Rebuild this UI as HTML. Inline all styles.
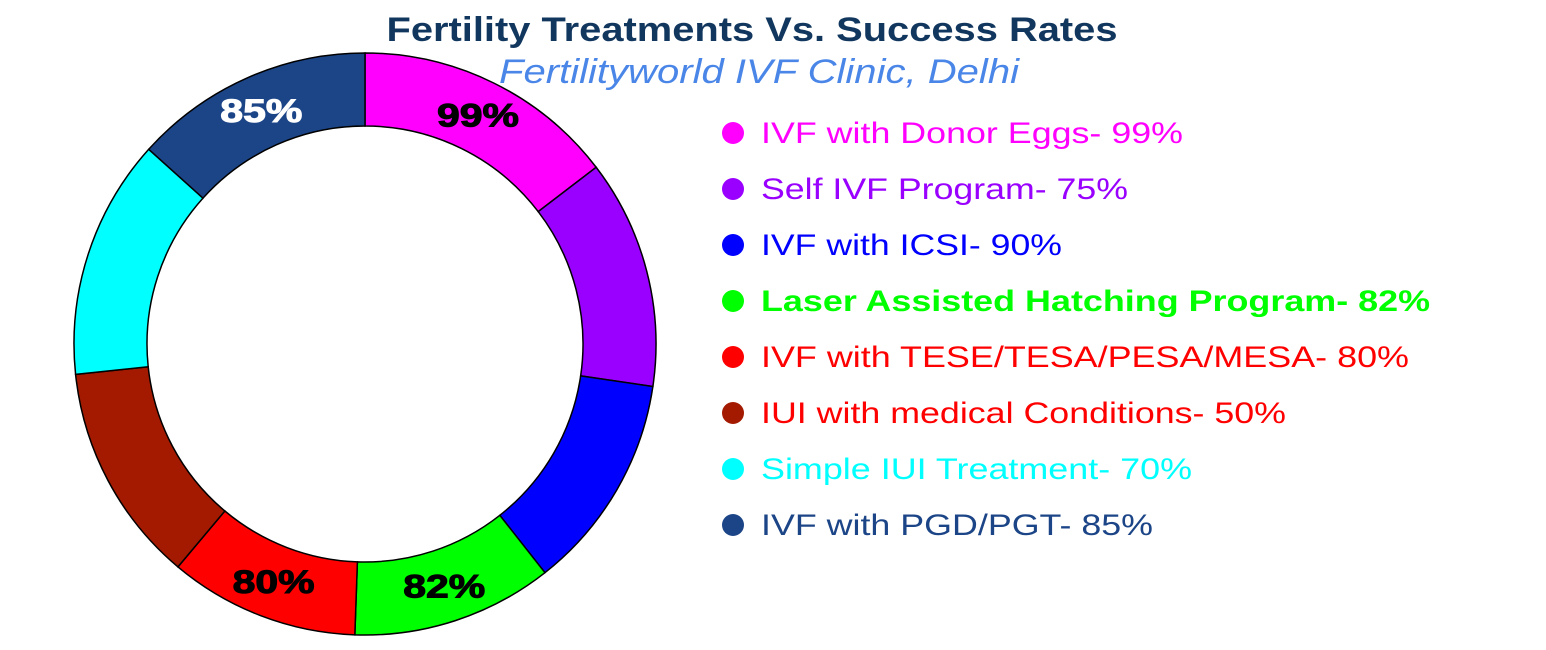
<!DOCTYPE html>
<html><head><meta charset="utf-8"><style>
html,body{margin:0;padding:0;background:#fff;}
svg{display:block;font-family:"Liberation Sans",Arial,sans-serif;}
</style></head><body>
<svg id="chart" width="1546" height="650">
<text x="752" y="41" text-anchor="middle" font-size="34" font-weight="bold" fill="#12375f" textLength="731" lengthAdjust="spacingAndGlyphs">Fertility Treatments Vs. Success Rates</text>
<text x="759" y="83" text-anchor="middle" font-size="34" font-style="italic" fill="#4a86e8" textLength="520" lengthAdjust="spacingAndGlyphs">Fertilityworld IVF Clinic, Delhi</text>
<g id="slices"></g><g id="labels"></g><g id="legend"></g>
</svg>
<script>
const categories=["IVF with Donor Eggs","Self IVF Program","IVF with ICSI","Laser Assisted Hatching Program","IVF with TESE/TESA/PESA/MESA","IUI with medical Conditions","Simple IUI Treatment","IVF with PGD/PGT"];
const rates=[99,75,90,82,80,50,70,85];
const sliceWeights=[52.6,45.8,43.4,40.2,38,44,48,48];
const shownLabels=[true,false,false,true,true,false,false,true];
const colors=["#ff00ff","#9900ff","#0000ff","#00ff00","#ff0000","#a31a00","#00ffff","#1c4587"];
const textColors=["#ff00ff","#9900ff","#0000ff","#00ff00","#ff0000","#ff0000","#00ffff","#1c4587"];
const legendEnds=[1183,1128,1062,1430,1409,1286,1192,1153];
const NS="http://www.w3.org/2000/svg";
const cx=365,cy=344,R=291,r=218,Rl=255;
const total=sliceWeights.reduce((a,b)=>a+b,0);
function pt(a,rad){return [cx+rad*Math.sin(a),cy-rad*Math.cos(a)];}
let acc=0;
const gS=document.getElementById('slices'),gL=document.getElementById('labels'),gG=document.getElementById('legend');
sliceWeights.forEach((w,i)=>{
  const a0=acc/total*2*Math.PI; acc+=w; const a1=acc/total*2*Math.PI;
  const lg=(a1-a0)>Math.PI?1:0;
  const p0=pt(a0,R),p1=pt(a1,R),q1=pt(a1,r),q0=pt(a0,r);
  const p=document.createElementNS(NS,'path');
  p.setAttribute('d',`M${p0}A${R},${R} 0 ${lg} 1 ${p1}L${q1}A${r},${r} 0 ${lg} 0 ${q0}Z`);
  p.setAttribute('fill',colors[i]);p.setAttribute('stroke','#000');p.setAttribute('stroke-width','1.5');
  
  
  gS.appendChild(p);
  if(shownLabels[i]){
    const m=pt((a0+a1)/2,Rl);
    const t=document.createElementNS(NS,'text');
    t.setAttribute('x',m[0]-41);t.setAttribute('y',m[1]+11);
    t.setAttribute('font-size','32');t.setAttribute('font-weight','bold');
    t.setAttribute('textLength','82');t.setAttribute('lengthAdjust','spacingAndGlyphs');
    t.setAttribute('stroke',i===7?'#fff':'#000');t.setAttribute('stroke-width','1');
    t.setAttribute('fill',i===7?'#fff':'#000');
    t.textContent=rates[i]+'%';
    
    
    gL.appendChild(t);
  }
  const y=133+i*56;
  const c=document.createElementNS(NS,'circle');
  c.setAttribute('cx',733);c.setAttribute('cy',y);c.setAttribute('r',11);c.setAttribute('fill',colors[i]);
  
  
  gG.appendChild(c);
  const t=document.createElementNS(NS,'text');
  t.setAttribute('x',761);t.setAttribute('y',y+10);t.setAttribute('font-size','30');
  t.setAttribute('textLength',legendEnds[i]-761);t.setAttribute('lengthAdjust','spacingAndGlyphs');
  t.setAttribute('fill',textColors[i]);
  if(i===3)t.setAttribute('font-weight','bold');
  t.textContent=categories[i]+'- '+rates[i]+'%';
  
  
  gG.appendChild(t);
});
</script>
</body></html>
